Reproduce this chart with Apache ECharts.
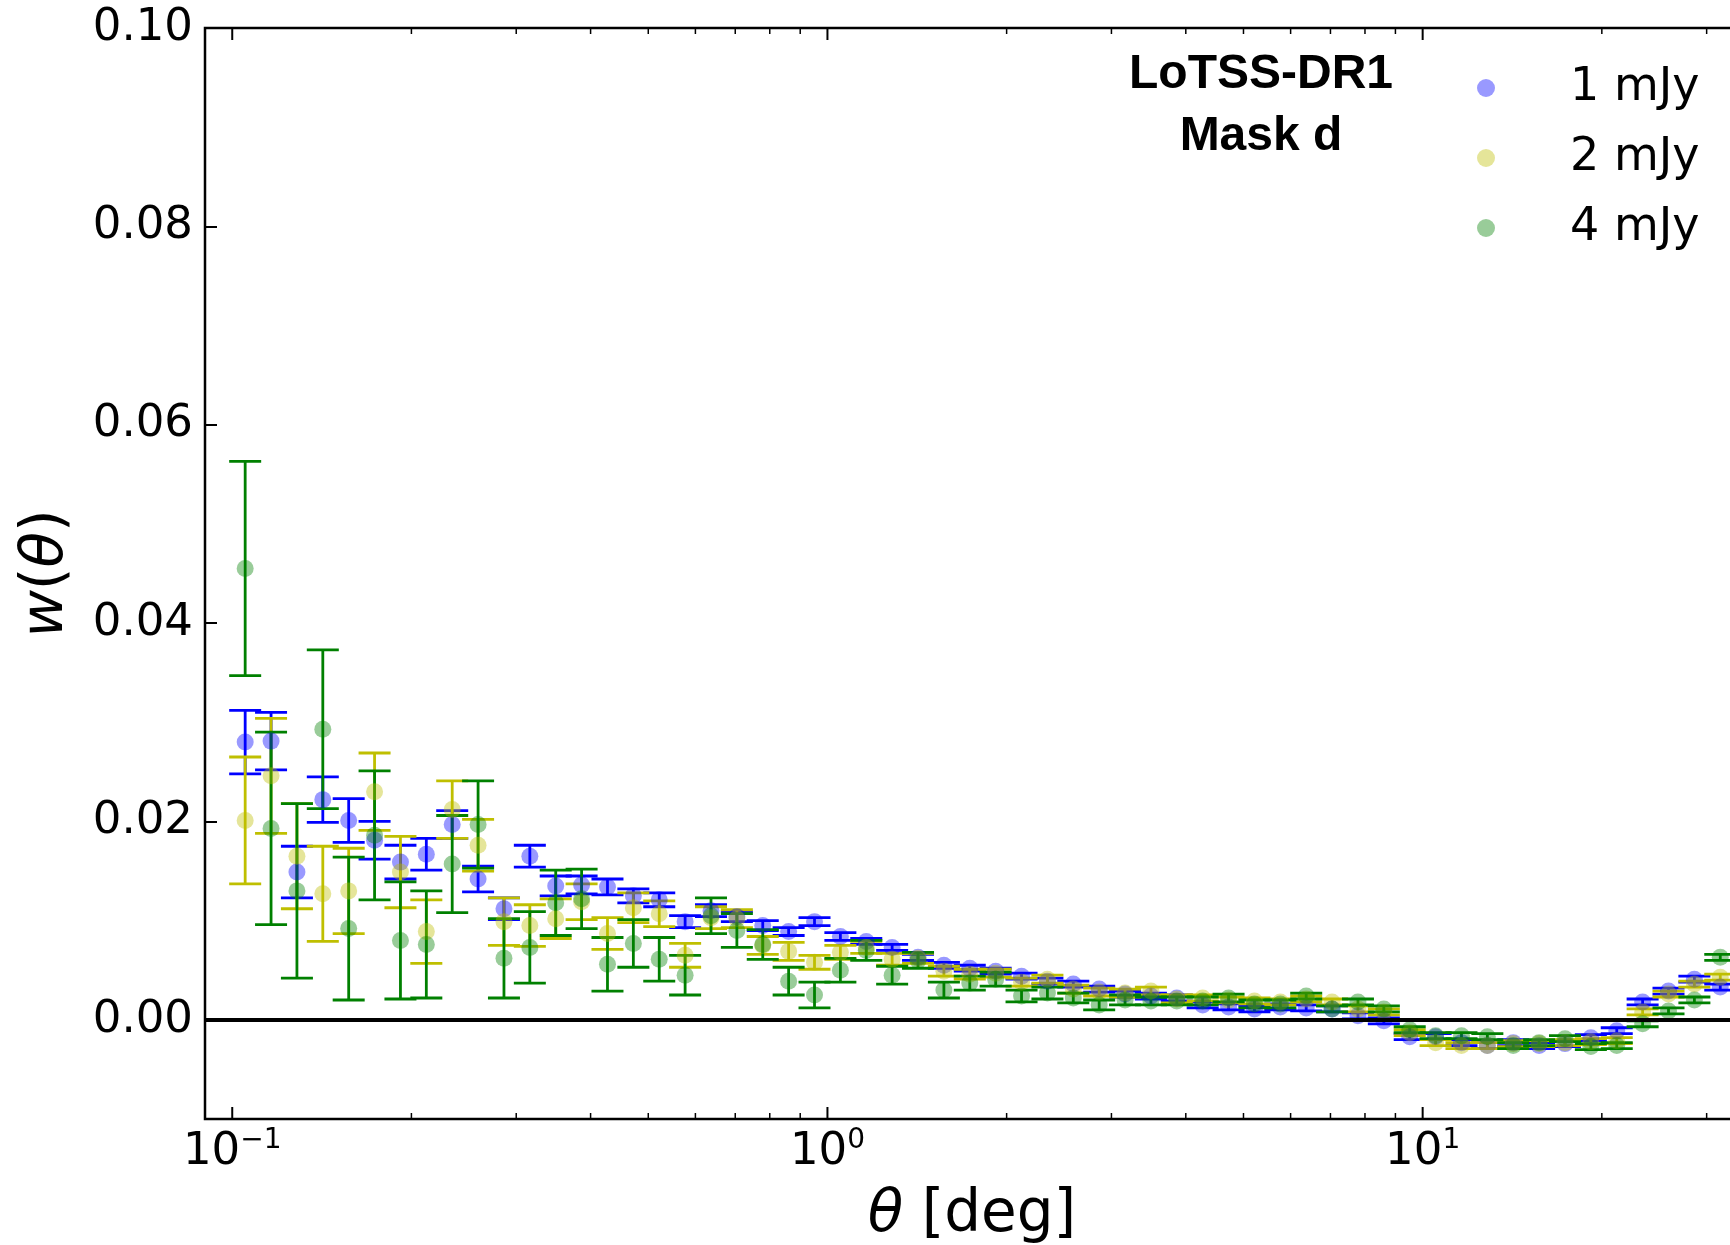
<!DOCTYPE html>
<html>
<head>
<meta charset="utf-8">
<title>LoTSS-DR1 angular correlation</title>
<script src="https://cdn.jsdelivr.net/npm/echarts@6/dist/echarts.min.js"></script>
<style>
  html, body { margin: 0; padding: 0; background: #ffffff; }
  #chart { width: 1730px; height: 1245px; }
</style>
</head>
<body>
<div id="chart"></div>
<script>
// Angular bin centres [deg] (23 log bins per decade)
const theta = [
  0.105132, 0.116202, 0.128438, 0.141962, 0.156910, 0.173432, 0.191693, 0.211877,
  0.234187, 0.258846, 0.286101, 0.316228, 0.349525, 0.386329, 0.427007, 0.471969,
  0.521666, 0.576595, 0.637309, 0.704415, 0.778586, 0.860567, 0.951178,
  1.05132, 1.16202, 1.28438, 1.41962, 1.56910, 1.73432, 1.91693, 2.11877,
  2.34187, 2.58846, 2.86101, 3.16228, 3.49525, 3.86329, 4.27007, 4.71969,
  5.21666, 5.76595, 6.37309, 7.04415, 7.78586, 8.60567, 9.51178,
  10.5132, 11.6202, 12.8438, 14.1962, 15.6910, 17.3432, 19.1693, 21.1877,
  23.4187, 25.8846, 28.6101, 31.6228
];

// w(theta) and 1-sigma errors, flux cut 1 mJy
const w1mJy = [
  0.0280, 0.0281, 0.0149, 0.0222, 0.0201, 0.0181, 0.0159, 0.0167, 0.0197, 0.0142,
  0.0112, 0.0165, 0.0135, 0.0136, 0.0134, 0.0125, 0.0121, 0.0099, 0.0110, 0.0104,
  0.0095, 0.0089, 0.0099, 0.0084, 0.0079, 0.0073, 0.0063, 0.0055, 0.0052, 0.0049,
  0.0044, 0.0039, 0.0036, 0.0031, 0.0026, 0.0024, 0.0022, 0.0015, 0.0013, 0.0011,
  0.0013, 0.0012, 0.0011, 0.0004, -0.0001, -0.0017, -0.0017, -0.0023, -0.0026, -0.0023,
  -0.0026, -0.0024, -0.0018, -0.0011, 0.0018, 0.0029, 0.0041, 0.0033
];
const err1mJy = [
  0.0032, 0.0029, 0.0026, 0.0023, 0.0022, 0.0019, 0.0017, 0.0016, 0.0014, 0.0013,
  0.0011, 0.0011, 0.0010, 0.0009, 0.0008, 0.0007, 0.0007, 0.0006, 0.0006, 0.0005,
  0.0005, 0.0004, 0.0004, 0.0004, 0.0003, 0.0003, 0.0003, 0.0003, 0.0003, 0.0003,
  0.0003, 0.0003, 0.0003, 0.0003, 0.0003, 0.0003, 0.0003, 0.0003, 0.0003, 0.0003,
  0.0003, 0.0003, 0.0003, 0.0003, 0.0003, 0.0003, 0.0003, 0.0003, 0.0003, 0.0003,
  0.0003, 0.0003, 0.0003, 0.0003, 0.0003, 0.0003, 0.0003, 0.0003
];

// flux cut 2 mJy
const w2mJy = [
  0.0201, 0.0246, 0.0165, 0.0127, 0.0130, 0.0230, 0.0149, 0.0089, 0.0212, 0.0176,
  0.0099, 0.0095, 0.0102, 0.0119, 0.0087, 0.0113, 0.0107, 0.0065, 0.0103, 0.0102,
  0.0075, 0.0069, 0.0058, 0.0068, 0.0073, 0.0061, 0.0062, 0.0049, 0.0046, 0.0047,
  0.0038, 0.0041, 0.0031, 0.0028, 0.0027, 0.0029, 0.0021, 0.0022, 0.0020, 0.0019,
  0.0018, 0.0021, 0.0018, 0.0011, 0.0008, -0.0013, -0.0023, -0.0026, -0.0026, -0.0024,
  -0.0024, -0.0023, -0.0022, -0.0021, 0.0008, 0.0026, 0.0036, 0.0043
];
const err2mJy = [
  0.0064, 0.0058, 0.0053, 0.0048, 0.0043, 0.0039, 0.0036, 0.0032, 0.0029, 0.0026,
  0.0024, 0.0021, 0.0020, 0.0018, 0.0016, 0.0015, 0.0013, 0.0012, 0.0011, 0.0009,
  0.0009, 0.0009, 0.0007, 0.0007, 0.0006, 0.0006, 0.0005, 0.0005, 0.0005, 0.0004,
  0.0004, 0.0004, 0.0004, 0.0004, 0.0004, 0.0004, 0.0004, 0.0003, 0.0003, 0.0003,
  0.0003, 0.0003, 0.0003, 0.0003, 0.0003, 0.0003, 0.0003, 0.0003, 0.0003, 0.0003,
  0.0003, 0.0003, 0.0003, 0.0003, 0.0003, 0.0003, 0.0003, 0.0003
];

// flux cut 4 mJy
const w4mJy = [
  0.0455, 0.0193, 0.0130, 0.0293, 0.0092, 0.0186, 0.0080, 0.0076, 0.0157, 0.0197,
  0.0062, 0.0073, 0.0118, 0.0122, 0.0056, 0.0077, 0.0061, 0.0045, 0.0105, 0.0090,
  0.0076, 0.0039, 0.0025, 0.0050, 0.0070, 0.0045, 0.0060, 0.0030, 0.0037, 0.0041,
  0.0024, 0.0027, 0.0022, 0.0015, 0.0020, 0.0019, 0.0019, 0.0019, 0.0022, 0.0016,
  0.0016, 0.0024, 0.0011, 0.0018, 0.0011, -0.0010, -0.0016, -0.0016, -0.0017, -0.0026,
  -0.0023, -0.0019, -0.0027, -0.0026, -0.0004, 0.0009, 0.0020, 0.0063
];
const err4mJy = [
  0.0108, 0.0097, 0.0088, 0.0080, 0.0072, 0.0065, 0.0059, 0.0054, 0.0049, 0.0044,
  0.0040, 0.0036, 0.0033, 0.0030, 0.0027, 0.0024, 0.0022, 0.0020, 0.0018, 0.0017,
  0.0015, 0.0014, 0.0013, 0.0012, 0.0010, 0.0009, 0.0008, 0.0008, 0.0007, 0.0007,
  0.0006, 0.0006, 0.0005, 0.0005, 0.0005, 0.0004, 0.0004, 0.0004, 0.0004, 0.0004,
  0.0004, 0.0003, 0.0003, 0.0003, 0.0003, 0.0003, 0.0003, 0.0003, 0.0003, 0.0003,
  0.0003, 0.0003, 0.0003, 0.0003, 0.0003, 0.0003, 0.0003, 0.0003
];

// Axis ranges and ticks
const X_MIN = 0.09, X_MAX = 34;
const Y_MIN = -0.01, Y_MAX = 0.10;
const yTicks = [0, 0.02, 0.04, 0.06, 0.08, 0.10];
const xMajorTicks = [0.1, 1, 10];
const xMajorExponents = ['\u22121', '0', '1'];
const xMinorTicks = [0.2, 0.3, 0.4, 0.5, 0.6, 0.7, 0.8, 0.9, 2, 3, 4, 5, 6, 7, 8, 9, 20, 30];

const FONT = '"DejaVu Sans", "Noto Sans", sans-serif';
const CAP = 16;

function errorBarRenderer(color) {
  return function (params, api) {
    const x = api.value(0), y = api.value(1), e = api.value(2);
    const hi = api.coord([x, y + e]);
    const lo = api.coord([x, y - e]);
    const st = { stroke: color, lineWidth: 2.8 };
    return {
      type: 'group',
      children: [
        { type: 'line', shape: { x1: hi[0], y1: hi[1], x2: lo[0], y2: lo[1] }, style: st },
        { type: 'line', shape: { x1: hi[0] - CAP, y1: hi[1], x2: hi[0] + CAP, y2: hi[1] }, style: st },
        { type: 'line', shape: { x1: lo[0] - CAP, y1: lo[1], x2: lo[0] + CAP, y2: lo[1] }, style: st }
      ]
    };
  };
}

function errorSeries(name, w, err, color) {
  return {
    type: 'custom',
    name: name,
    silent: true,
    animation: false,
    encode: { x: 0, y: 1 },
    data: theta.map((t, i) => [t, w[i], err[i]]),
    renderItem: errorBarRenderer(color)
  };
}

function pointSeries(name, w, color) {
  return {
    type: 'scatter',
    name: name,
    silent: true,
    animation: false,
    symbol: 'circle',
    symbolSize: 17,
    itemStyle: { color: color, borderWidth: 0 },
    data: theta.map((t, i) => [t, w[i]])
  };
}

// log-axis tick marks (bottom and top, pointing inward) with 10^n labels
const tickData = xMajorTicks.map((v, i) => [v, 0, 1, i])
  .concat(xMinorTicks.map(v => [v, 0, 0, -1]));

function tickRenderer(params, api) {
  const v = api.value(0);
  const major = api.value(2) === 1;
  const pb = api.coord([v, Y_MIN]);
  const pt = api.coord([v, Y_MAX]);
  const len = major ? 12 : 6;
  const st = { stroke: '#000', lineWidth: major ? 2 : 1.5 };
  const children = [
    { type: 'line', shape: { x1: pb[0], y1: pb[1], x2: pb[0], y2: pb[1] - len }, style: st },
    { type: 'line', shape: { x1: pt[0], y1: pt[1], x2: pt[0], y2: pt[1] + len }, style: st }
  ];
  if (major) {
    const exp = xMajorExponents[api.value(3)];
    children.push({
      type: 'text',
      x: pb[0],
      y: pb[1] + 8,
      style: {
        text: '{b|10}{s|' + exp + '}',
        align: 'center',
        verticalAlign: 'top',
        fill: '#000',
        rich: {
          b: { fontSize: 45, fontFamily: FONT, lineHeight: 48, verticalAlign: 'bottom', fill: '#000' },
          s: { fontSize: 28, fontFamily: FONT, lineHeight: 28, verticalAlign: 'top', fill: '#000' }
        }
      }
    });
  }
  return { type: 'group', children: children };
}

const chart = echarts.init(document.getElementById('chart'), null, { renderer: 'canvas' });

chart.setOption({
  animation: false,
  backgroundColor: '#ffffff',
  grid: {
    left: 205,
    right: -9,
    top: 28,
    bottom: 126,
    show: true,
    borderColor: '#000',
    borderWidth: 2.5,
    backgroundColor: 'transparent',
    containLabel: false,
    outerBoundsMode: 'none'
  },
  xAxis: {
    type: 'log',
    logBase: 10,
    min: X_MIN,
    max: X_MAX,
    axisLine: { show: false },
    axisTick: { show: false },
    axisLabel: { show: false },
    splitLine: { show: false },
    minorTick: { show: false },
    name: '{i|\u03b8} [deg]',
    nameLocation: 'middle',
    nameGap: 65,
    nameTextStyle: {
      fontSize: 58,
      fontFamily: FONT,
      color: '#000',
      lineHeight: 64,
      rich: {
        i: { fontSize: 58, fontFamily: FONT, fontStyle: 'italic', color: '#000', lineHeight: 64 }
      }
    }
  },
  yAxis: {
    type: 'value',
    min: Y_MIN,
    max: Y_MAX,
    axisLine: { show: false },
    axisTick: {
      show: true,
      inside: true,
      length: 12,
      customValues: yTicks,
      lineStyle: { color: '#000', width: 2 }
    },
    axisLabel: {
      show: true,
      customValues: yTicks,
      margin: 12,
      fontSize: 45,
      fontFamily: FONT,
      color: '#000',
      formatter: v => v.toFixed(2)
    },
    splitLine: { show: false },
    name: '{i|w}({i|\u03b8})',
    nameLocation: 'middle',
    nameRotate: 90,
    nameGap: 126,
    nameTextStyle: {
      fontSize: 58,
      fontFamily: FONT,
      color: '#000',
      lineHeight: 64,
      rich: {
        i: { fontSize: 58, fontFamily: FONT, fontStyle: 'italic', color: '#000', lineHeight: 64 }
      }
    }
  },
  legend: {
    data: ['1 mJy', '2 mJy', '4 mJy'],
    orient: 'vertical',
    left: 1472,
    top: 58,
    icon: 'circle',
    itemWidth: 18,
    itemHeight: 18,
    itemGap: 20,
    selectedMode: false,
    textStyle: {
      fontSize: 46,
      fontFamily: FONT,
      color: '#000',
      lineHeight: 50,
      padding: [0, 0, 0, 70]
    }
  },
  graphic: [
    {
      type: 'text',
      x: 1261,
      y: 44,
      silent: true,
      style: {
        text: 'LoTSS-DR1\nMask d',
        align: 'center',
        verticalAlign: 'top',
        fontSize: 48,
        fontWeight: 'bold',
        fontFamily: '"Liberation Sans", Arial, sans-serif',
        lineHeight: 62,
        fill: '#000'
      }
    }
  ],
  series: [
    errorSeries('1 mJy error', w1mJy, err1mJy, '#0000ff'),
    pointSeries('1 mJy', w1mJy, 'rgba(0,0,255,0.5)'),
    errorSeries('2 mJy error', w2mJy, err2mJy, '#bfbf00'),
    pointSeries('2 mJy', w2mJy, 'rgba(191,191,0,0.5)'),
    errorSeries('4 mJy error', w4mJy, err4mJy, '#008000'),
    Object.assign(pointSeries('4 mJy', w4mJy, 'rgba(0,128,0,0.5)'), {
      markLine: {
        silent: true,
        symbol: ['none', 'none'],
        label: { show: false },
        lineStyle: { color: '#000', width: 4, type: 'solid' },
        emphasis: { disabled: true },
        data: [{ yAxis: 0 }]
      }
    }),
    {
      type: 'custom',
      name: 'axis ticks',
      silent: true,
      animation: false,
      z: 10,
      encode: { x: 0, y: 1 },
      data: tickData,
      renderItem: tickRenderer
    }
  ]
});
</script>
</body>
</html>
